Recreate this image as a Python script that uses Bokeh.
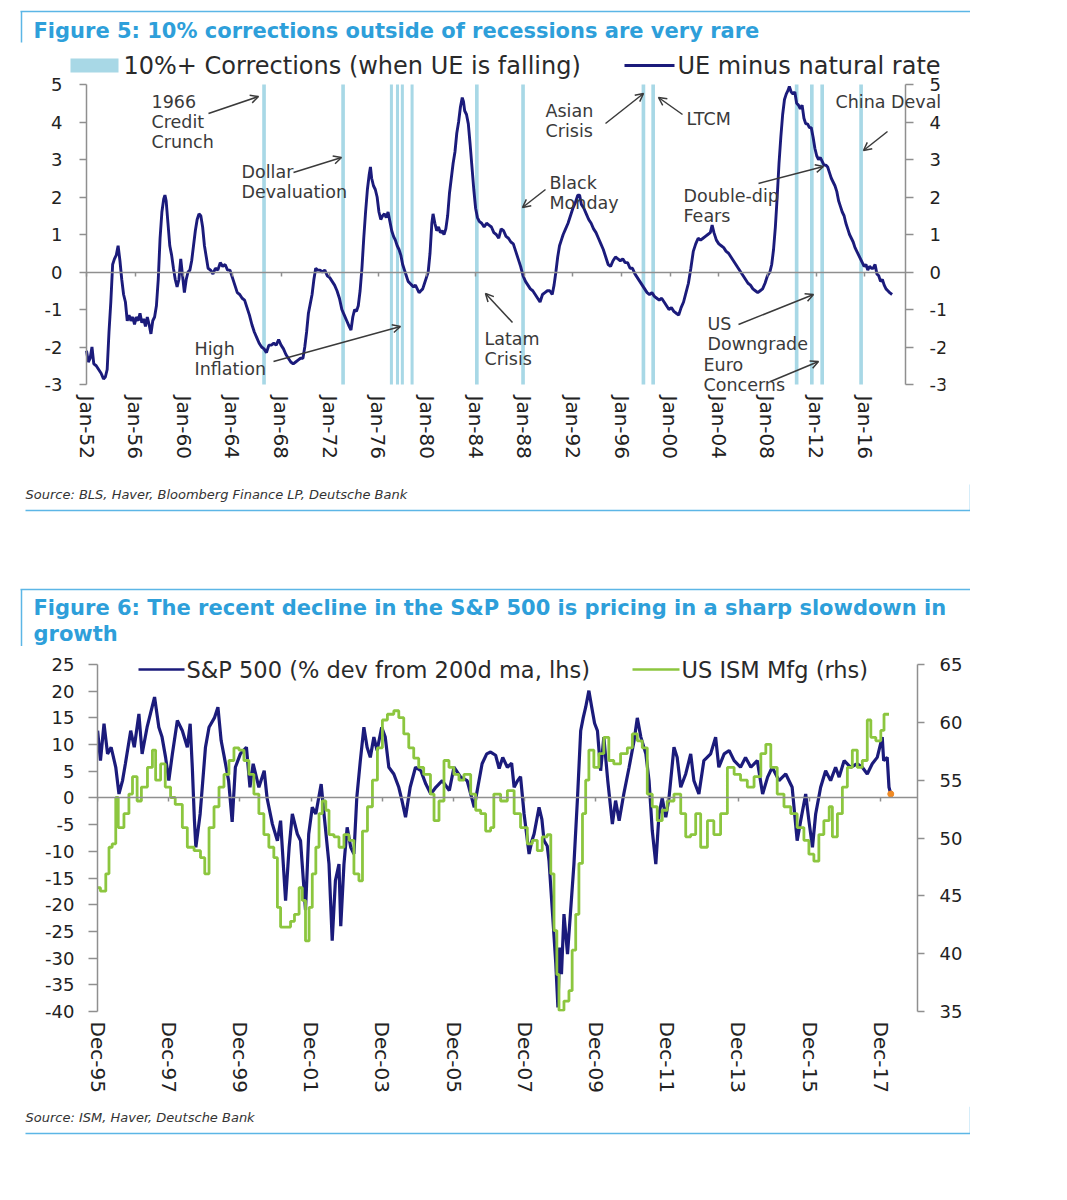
from bokeh.plotting import figure
from bokeh.models import (Range1d, LinearAxis, FixedTicker, CustomJSTickFormatter,
                          Label, Arrow, OpenHead)
from bokeh.layouts import column
from bokeh.embed import file_html
from bokeh.resources import INLINE

# ---------------------------------------------------------------- data
# Figure 5: unemployment rate minus natural rate (decimal years)
ue_years = [
    1952.0, 1952.15, 1952.3, 1952.45, 1952.6, 1952.8,
    1953.0, 1953.2, 1953.4, 1953.55, 1953.7, 1953.85,
    1954.0, 1954.15, 1954.3, 1954.45, 1954.6, 1954.75, 1954.9,
    1955.05, 1955.2, 1955.35, 1955.5, 1955.65, 1955.8, 1955.95,
    1956.1, 1956.25, 1956.4, 1956.55, 1956.7, 1956.85,
    1957.0, 1957.15, 1957.3, 1957.45, 1957.6, 1957.75, 1957.9,
    1958.05, 1958.2, 1958.35, 1958.45, 1958.55, 1958.7, 1958.85,
    1959.0, 1959.15, 1959.3, 1959.45, 1959.6, 1959.75, 1959.9,
    1960.05, 1960.2, 1960.35, 1960.5, 1960.65, 1960.8, 1960.95,
    1961.1, 1961.25, 1961.4, 1961.55, 1961.7, 1961.85,
    1962.0, 1962.2, 1962.4, 1962.6, 1962.8,
    1963.0, 1963.2, 1963.4, 1963.6, 1963.8,
    1964.0, 1964.2, 1964.4, 1964.6, 1964.8,
    1965.0, 1965.2, 1965.4, 1965.6, 1965.8,
    1966.0, 1966.2, 1966.4, 1966.6, 1966.8,
    1967.0, 1967.2, 1967.4, 1967.6, 1967.8,
    1968.0, 1968.2, 1968.4, 1968.6, 1968.8,
    1969.0, 1969.2, 1969.4, 1969.6, 1969.8, 1969.95,
    1970.1, 1970.25, 1970.4, 1970.55, 1970.7, 1970.85,
    1971.0, 1971.2, 1971.4, 1971.6, 1971.8,
    1972.0, 1972.2, 1972.4, 1972.6, 1972.8,
    1973.0, 1973.2, 1973.4, 1973.6, 1973.75, 1973.9,
    1974.05, 1974.2, 1974.35, 1974.5, 1974.65, 1974.8, 1974.95,
    1975.1, 1975.25, 1975.35, 1975.45, 1975.6, 1975.75, 1975.9,
    1976.05, 1976.2, 1976.35, 1976.5, 1976.65, 1976.8, 1976.95,
    1977.1, 1977.25, 1977.4, 1977.55, 1977.7, 1977.85,
    1978.0, 1978.15, 1978.3, 1978.45, 1978.6, 1978.75, 1978.9,
    1979.05, 1979.2, 1979.35, 1979.5, 1979.65, 1979.8, 1979.95,
    1980.1, 1980.25, 1980.4, 1980.5, 1980.65, 1980.8, 1980.95,
    1981.1, 1981.25, 1981.4, 1981.55, 1981.7, 1981.85,
    1982.0, 1982.15, 1982.3, 1982.45, 1982.6, 1982.75, 1982.9,
    1983.0, 1983.1, 1983.25, 1983.4, 1983.55, 1983.7, 1983.85,
    1984.0, 1984.15, 1984.3, 1984.5, 1984.7, 1984.9,
    1985.1, 1985.3, 1985.5, 1985.7, 1985.9,
    1986.1, 1986.3, 1986.5, 1986.7, 1986.9,
    1987.1, 1987.3, 1987.5, 1987.7, 1987.9,
    1988.1, 1988.3, 1988.5, 1988.7, 1988.9,
    1989.1, 1989.3, 1989.5, 1989.7, 1989.9,
    1990.1, 1990.3, 1990.45, 1990.6, 1990.75, 1990.9,
    1991.05, 1991.2, 1991.4, 1991.6, 1991.8,
    1992.0, 1992.2, 1992.4, 1992.55, 1992.7, 1992.9,
    1993.1, 1993.3, 1993.5, 1993.7, 1993.9,
    1994.1, 1994.3, 1994.5, 1994.7, 1994.9,
    1995.1, 1995.3, 1995.5, 1995.7, 1995.9,
    1996.1, 1996.3, 1996.5, 1996.7, 1996.9,
    1997.1, 1997.3, 1997.5, 1997.7, 1997.9,
    1998.1, 1998.3, 1998.5, 1998.7, 1998.9,
    1999.1, 1999.3, 1999.5, 1999.7, 1999.9,
    2000.1, 2000.3, 2000.5, 2000.7, 2000.9,
    2001.1, 2001.3, 2001.5, 2001.7, 2001.9,
    2002.1, 2002.3, 2002.5, 2002.7, 2002.9,
    2003.1, 2003.3, 2003.45, 2003.6, 2003.8,
    2004.0, 2004.2, 2004.4, 2004.6, 2004.8,
    2005.0, 2005.2, 2005.4, 2005.6, 2005.8,
    2006.0, 2006.2, 2006.4, 2006.6, 2006.8,
    2007.0, 2007.2, 2007.4, 2007.6, 2007.8,
    2008.0, 2008.2, 2008.35, 2008.5, 2008.65, 2008.8, 2008.95,
    2009.1, 2009.25, 2009.4, 2009.55, 2009.7, 2009.8, 2009.95,
    2010.1, 2010.25, 2010.4, 2010.55, 2010.7, 2010.85,
    2011.0, 2011.15, 2011.3, 2011.45, 2011.6, 2011.75, 2011.9,
    2012.05, 2012.2, 2012.35, 2012.5, 2012.65, 2012.8, 2012.95,
    2013.1, 2013.25, 2013.4, 2013.55, 2013.7, 2013.85,
    2014.0, 2014.15, 2014.3, 2014.45, 2014.6, 2014.75, 2014.9,
    2015.05, 2015.2, 2015.35, 2015.5, 2015.65, 2015.8, 2015.95,
    2016.1, 2016.25, 2016.4, 2016.55, 2016.7, 2016.85,
    2017.0, 2017.15, 2017.3, 2017.45, 2017.6, 2017.75, 2017.9,
    2018.05, 2018.25,
]
ue_values = [
    -2.1, -2.4, -2.3, -2.0, -2.45, -2.5,
    -2.6, -2.7, -2.85, -2.8, -2.6, -1.6,
    -0.8, 0.2, 0.35, 0.45, 0.7, 0.3, -0.2,
    -0.6, -0.8, -1.3, -1.15, -1.3, -1.2, -1.4,
    -1.2, -1.3, -1.1, -1.35, -1.25, -1.45,
    -1.2, -1.4, -1.65, -1.3, -1.2, -0.9, -0.2,
    0.9, 1.6, 1.95, 2.05, 1.9, 1.3, 0.7,
    0.45, 0.1, -0.2, -0.4, -0.2, 0.35, -0.1,
    -0.55, -0.2, 0.0, 0.05, 0.3, 0.7, 1.1,
    1.4, 1.55, 1.5, 1.2, 0.7, 0.4,
    0.1, 0.05, -0.05, 0.1, 0.05,
    0.25, 0.15, 0.2, 0.05, 0.05,
    -0.15, -0.35, -0.55, -0.6, -0.7,
    -0.75, -0.95, -1.15, -1.4, -1.6,
    -1.75, -1.9, -2.0, -2.05, -2.15,
    -1.95, -1.95, -1.9, -1.95, -1.8,
    -1.95, -2.05, -2.2, -2.3, -2.4,
    -2.45, -2.4, -2.35, -2.3, -2.3, -2.0,
    -1.6, -1.1, -0.85, -0.6, -0.2, 0.1,
    0.05, 0.05, 0.0, 0.05, -0.1,
    -0.15, -0.25, -0.35, -0.5, -0.7,
    -1.0, -1.15, -1.3, -1.45, -1.55, -1.2,
    -1.0, -1.05, -0.9, -0.5, 0.1, 0.9, 1.6,
    2.2, 2.6, 2.8, 2.5, 2.3, 2.2, 2.0,
    1.6, 1.4, 1.5, 1.55, 1.45, 1.6, 1.35,
    1.1, 0.95, 0.85, 0.7, 0.6, 0.45,
    0.2, 0.05, -0.1, -0.25, -0.3, -0.35, -0.4,
    -0.35, -0.45, -0.55, -0.5, -0.45, -0.3, -0.15,
    0.0, 0.5, 1.3, 1.55, 1.3, 1.1, 1.2,
    1.05, 1.1, 1.0, 1.15, 1.5, 2.1,
    2.5, 2.9, 3.2, 3.7, 4.0, 4.4, 4.65,
    4.55, 4.3, 4.2, 3.95, 3.4, 2.8, 2.2,
    1.7, 1.45, 1.35, 1.3, 1.2, 1.3,
    1.25, 1.2, 1.05, 1.0, 0.9,
    1.15, 1.1, 0.95, 0.9, 0.8,
    0.75, 0.55, 0.35, 0.15, -0.1,
    -0.25, -0.35, -0.45, -0.5, -0.6,
    -0.7, -0.8, -0.6, -0.55, -0.5,
    -0.5, -0.6, -0.35, 0.0, 0.4, 0.7,
    0.85, 1.0, 1.15, 1.3, 1.5,
    1.7, 1.85, 2.05, 2.05, 1.8, 1.7,
    1.55, 1.4, 1.3, 1.15, 1.05,
    0.9, 0.75, 0.6, 0.4, 0.2,
    0.15, 0.3, 0.4, 0.35, 0.3,
    0.35, 0.25, 0.25, 0.1, 0.1,
    -0.05, -0.15, -0.25, -0.35, -0.45,
    -0.55, -0.6, -0.55, -0.65, -0.7,
    -0.75, -0.7, -0.8, -0.9, -1.0,
    -0.95, -1.05, -1.1, -1.15, -0.95,
    -0.8, -0.55, -0.3, 0.1, 0.55,
    0.75, 0.9, 0.85, 0.9, 0.95,
    1.0, 1.05, 1.25, 1.05, 0.85,
    0.75, 0.7, 0.65, 0.55, 0.5,
    0.4, 0.3, 0.2, 0.1, 0.0,
    -0.1, -0.2, -0.3, -0.35, -0.45,
    -0.5, -0.55, -0.5, -0.45, -0.3,
    -0.1, 0.0, 0.2, 0.6, 1.2, 2.0, 2.9,
    3.6, 4.2, 4.6, 4.75, 4.85, 4.95, 4.8,
    4.75, 4.8, 4.5, 4.45, 4.35, 4.45,
    4.1, 3.95, 3.95, 3.85, 3.85, 3.6, 3.3,
    3.1, 3.0, 3.05, 2.95, 2.85, 2.85, 2.8,
    2.65, 2.5, 2.4, 2.3, 2.15, 1.9,
    1.75, 1.6, 1.5, 1.3, 1.15, 1.0, 0.9,
    0.8, 0.65, 0.55, 0.45, 0.35, 0.25, 0.15,
    0.2, 0.05, 0.15, 0.1, 0.1, 0.2,
    -0.05, -0.1, -0.25, -0.2, -0.35, -0.45, -0.5,
    -0.55, -0.6,
]
# 10%+ corrections while UE falling (start / end, decimal years)
corr_start = [1966.45, 1972.95, 1976.95, 1977.45, 1977.85, 1978.65, 1983.95,
              1987.75, 1997.65, 1998.45, 2010.25, 2011.5, 2012.35, 2015.55]
corr_end = [1966.75, 1973.25, 1977.2, 1977.7, 1978.1, 1978.9, 1984.25,
            1988.05, 1997.95, 1998.75, 2010.55, 2011.8, 2012.65, 2015.85]
fig5_xticks = [1952, 1956, 1960, 1964, 1968, 1972, 1976, 1980, 1984, 1988,
               1992, 1996, 2000, 2004, 2008, 2012, 2016]
fig5_xlabels = ["Jan-52", "Jan-56", "Jan-60", "Jan-64", "Jan-68", "Jan-72",
                "Jan-76", "Jan-80", "Jan-84", "Jan-88", "Jan-92", "Jan-96",
                "Jan-00", "Jan-04", "Jan-08", "Jan-12", "Jan-16"]
fig5_yticks = [-3, -2, -1, 0, 1, 2, 3, 4, 5]

# Figure 6: S&P 500 % deviation from 200d MA (lhs) and ISM manufacturing (rhs)
sp_years = [
    1995.92, 1996.0, 1996.1, 1996.2, 1996.3, 1996.43, 1996.52, 1996.62, 1996.7, 1996.85, 1996.95,
    1997.08, 1997.17, 1997.31, 1997.45, 1997.52, 1997.64, 1997.73, 1997.83, 1997.92,
    1998.02, 1998.16, 1998.3, 1998.44, 1998.52, 1998.58, 1998.64, 1998.68, 1998.8, 1998.95,
    1999.05, 1999.2, 1999.3, 1999.39, 1999.48, 1999.6, 1999.7, 1999.79, 1999.93,
    2000.1, 2000.2, 2000.29, 2000.45, 2000.6, 2000.68, 2000.83, 2000.97,
    2001.06, 2001.2, 2001.3, 2001.39, 2001.53, 2001.62, 2001.7, 2001.76, 2001.85, 2001.95,
    2002.05, 2002.2, 2002.28, 2002.42, 2002.51, 2002.6, 2002.7, 2002.75, 2002.84, 2002.93,
    2003.03, 2003.12, 2003.2, 2003.3, 2003.4, 2003.49, 2003.58, 2003.68, 2003.77, 2003.9,
    2004.0, 2004.1, 2004.24, 2004.38, 2004.47, 2004.57, 2004.7, 2004.85,
    2005.0, 2005.14, 2005.28, 2005.42, 2005.6, 2005.8, 2005.93,
    2006.12, 2006.3, 2006.5, 2006.6, 2006.72, 2006.85, 2006.96,
    2007.1, 2007.2, 2007.3, 2007.43, 2007.55, 2007.62, 2007.72, 2007.8, 2007.9,
    2008.04, 2008.12, 2008.18, 2008.32, 2008.4, 2008.46, 2008.55, 2008.6, 2008.7, 2008.79,
    2008.85, 2008.9, 2008.95,
    2009.02, 2009.12, 2009.2, 2009.3, 2009.4, 2009.49, 2009.56, 2009.63, 2009.72, 2009.8,
    2009.88, 2009.96,
    2010.05, 2010.14, 2010.25, 2010.38, 2010.47, 2010.57, 2010.7, 2010.85, 2010.99,
    2011.08, 2011.18, 2011.32, 2011.41, 2011.5, 2011.6, 2011.69, 2011.78, 2011.88, 2011.97,
    2012.11, 2012.2, 2012.3, 2012.44, 2012.58, 2012.67, 2012.81, 2012.95,
    2013.14, 2013.28, 2013.37, 2013.52, 2013.66, 2013.8, 2013.98,
    2014.12, 2014.27, 2014.45, 2014.6, 2014.74, 2014.87,
    2015.06, 2015.25, 2015.43, 2015.57, 2015.67, 2015.81, 2015.9,
    2016.0, 2016.09, 2016.23, 2016.37, 2016.51, 2016.65, 2016.75, 2016.89,
    2017.07, 2017.26, 2017.4, 2017.54, 2017.68, 2017.82, 2017.96,
    2018.0, 2018.1, 2018.15, 2018.2,
]
sp_values = [
    12.6, 7, 13.9, 8.25, 9.5, 5.75, 0.75, 3.25, 6.4, 12.6, 9.5,
    15.75, 8.25, 13.25, 17, 18.9, 13.25, 11.4, 7.6, 3.25,
    8.25, 14.5, 12.6, 9.5, 13.9, 5.75, -4.25, -9.25, -3, 9.5,
    13.25, 15, 17, 10.75, 7.6, 3.25, -4.5, 5.75, 8.25,
    9.5, 2, 6.4, 2, 5.1, 0, -4.9, -8,
    -4.25, -19.25, -9.25, -3, -6.75, -8, -15.5, -21, -6.75, -1.75,
    -3, 2.6, -3, -12.4, -26.75, -15.5, -12.4, -24, -12.4, -5.5,
    -9.25, -10.5, 0, 7, 13.25, 9.5, 7.6, 11.4, 8.9, 13.25,
    11.4, 5.75, 4.5, 2, -0.5, -3.6, 2, 5.75,
    5.1, 2.6, 0.75, 2, 3.25, 1.4, 5.75,
    3.9, 3.25, -1.75, 2, 6.4, 8.25, 8.6,
    8.0, 5.5, 7.6, 5.75, 6.5, 2, 3.25, 4.0, -3,
    -10.5, -8, -6.75, -1.75, -4, -8, -9, -11.75, -21.75, -31,
    -39.25, -28, -33,
    -21.75, -29.25, -21.75, -12.4, 0, 12.6, 15, 17, 20.1, 17,
    14, 12.6,
    5.1, 11.4, 3.25, -4.9, -0.5, -4.25, 0.75, 5.75, 10.75,
    15, 11.4, 8.25, 3.25, -6.1, -12.4, -3, 0, -3.6, 0,
    9.5, 7.6, 2, 4.5, 8.25, 3.25, 0.75, 7,
    8.25, 11.4, 5.75, 8.25, 8.9, 7, 5.75,
    7.6, 5.75, 7, 0.75, 3.9, 5.75,
    3.25, 4.5, 2, -8, -4.25, 0.75, -4.25,
    -9.25, -3, 2, 5.1, 3.25, 5.75, 3.9, 7,
    5.75, 6.4, 5.75, 4.5, 6.4, 7.6, 11.4,
    7, 7.6, 2, 0.75,
]
ism_years = [
    1995.92, 1996.0, 1996.15, 1996.24, 1996.33, 1996.43, 1996.5, 1996.66, 1996.8, 1996.9,
    1997.03, 1997.15, 1997.32, 1997.46, 1997.55, 1997.69, 1997.82, 1997.97,
    1998.1, 1998.3, 1998.44, 1998.63, 1998.81, 1998.93,
    1999.05, 1999.19, 1999.33, 1999.47, 1999.61, 1999.75, 1999.89,
    2000.03, 2000.17, 2000.31, 2000.45, 2000.59, 2000.73, 2000.87, 2000.97,
    2001.06, 2001.2, 2001.34, 2001.45, 2001.58, 2001.67, 2001.76, 2001.86, 2001.95,
    2002.05, 2002.14, 2002.23, 2002.33, 2002.42, 2002.56, 2002.7, 2002.84, 2002.98,
    2003.12, 2003.26, 2003.36, 2003.5, 2003.64, 2003.78, 2003.92,
    2004.06, 2004.24, 2004.38, 2004.52, 2004.66, 2004.8, 2004.94,
    2005.08, 2005.27, 2005.37, 2005.51, 2005.65, 2005.79, 2005.93,
    2006.07, 2006.21, 2006.4, 2006.54, 2006.68, 2006.82, 2006.96,
    2007.05, 2007.24, 2007.43, 2007.62, 2007.8, 2007.99,
    2008.13, 2008.27, 2008.41, 2008.55, 2008.65, 2008.74, 2008.82, 2008.88,
    2009.02, 2009.16, 2009.25, 2009.35, 2009.44, 2009.54, 2009.63, 2009.72, 2009.86,
    2010.0, 2010.14, 2010.28, 2010.42, 2010.61, 2010.8, 2010.94,
    2011.08, 2011.22, 2011.36, 2011.5, 2011.64, 2011.78, 2011.92,
    2012.11, 2012.3, 2012.44, 2012.58, 2012.72, 2012.86,
    2013.05, 2013.23, 2013.42, 2013.61, 2013.8, 2013.98,
    2014.17, 2014.36, 2014.55, 2014.69, 2014.83,
    2015.01, 2015.2, 2015.39, 2015.57, 2015.76, 2015.9,
    2016.04, 2016.18, 2016.32, 2016.47, 2016.56, 2016.7, 2016.84, 2016.98,
    2017.12, 2017.26, 2017.4, 2017.54, 2017.64, 2017.78, 2017.92,
    2018.01, 2018.15,
]
ism_values = [
    45.7, 45.4, 46.9, 49.2, 49.5, 53.5, 50.9, 52.1, 53.8, 55.3,
    53.2, 54.4, 56.1, 57.6, 55.0, 56.4, 54.4, 53.5,
    52.9, 50.9, 49.2, 48.9, 48.3, 46.9,
    50.9, 52.7, 54.4, 55.5, 56.7, 57.8, 57.6,
    56.7, 55.5, 53.8, 52.1, 50.3, 49.2, 48.3, 44.0,
    42.3, 42.3, 42.8, 43.4, 45.7, 44.6, 41.1, 44.0, 46.9,
    49.2, 52.1, 53.2, 52.4, 50.3, 50.1, 49.2, 50.3, 49.8,
    46.9, 46.3, 50.6, 52.7, 55.0, 57.8, 60.2,
    60.7, 61.0, 60.4, 59.0, 57.8, 56.9, 56.1,
    55.5, 53.8, 51.5, 53.2, 56.7, 56.1, 55.5,
    55.0, 55.5, 53.8, 52.4, 52.1, 50.6, 50.9,
    53.8, 53.2, 54.1, 52.1, 50.9, 49.5,
    49.8, 48.9, 50.1, 50.3, 46.9, 42.0, 38.2, 35.1,
    35.9, 36.8, 40.3, 43.4, 47.8, 52.1, 55.0, 57.6, 56.1,
    57.3, 58.7, 56.7, 56.4, 57.3, 57.8, 59.0,
    58.4, 57.8, 53.8, 52.7, 51.5, 52.4, 53.2,
    53.8, 52.1, 50.1, 50.3, 52.1, 49.2,
    51.5, 50.3, 52.1, 56.1, 55.5, 55.0,
    54.4, 55.3, 57.3, 58.1, 56.1,
    53.8, 52.7, 52.1, 50.9, 49.8, 48.6,
    48.0, 50.3, 51.5, 52.7, 50.1, 52.1, 54.4, 56.1,
    57.6, 56.1, 56.7, 60.2, 58.7, 58.4, 59.3,
    60.7, 60.7,
]
fig6_xticks = [1995.917 + 2 * i for i in range(12)]
fig6_xlabels = ["Dec-95", "Dec-97", "Dec-99", "Dec-01", "Dec-03", "Dec-05",
                "Dec-07", "Dec-09", "Dec-11", "Dec-13", "Dec-15", "Dec-17"]
fig6_lticks = [-40, -35, -30, -25, -20, -15, -10, -5, 0, 5, 10, 15, 20, 25]
fig6_rticks = [35, 40, 45, 50, 55, 60, 65]

# ---------------------------------------------------------------- style
FONT = "DejaVu Sans"
NAVY = "#1b1b7b"
GREEN = "#8cc63f"
BAND = "#a8d8e6"
TITLE_C = "#2e9fda"
FRAME_C = "#5cb6e6"
AXIS_C = "#8f8f8f"
TICK_C = "#222222"
NOTE_C = "#3a3a3a"
LEG_C = "#2a2a2a"
PAGE_W = 970


def pixel_fig(top, bottom):
    p = figure(width=PAGE_W, height=bottom - top, x_range=Range1d(0, PAGE_W),
               y_range=Range1d(bottom, top), x_axis_type=None, y_axis_type=None,
               toolbar_location=None, output_backend="svg", min_border=0,
               frame_align=False)
    p.outline_line_color = None
    return p


def text(p, x, y, s, size, color, style="normal"):
    p.add_layout(Label(x=x, y=y, text=s, text_font=FONT, text_font_size=size,
                       text_color=color, text_font_style=style, text_align="left",
                       text_baseline="middle"))


def label_formatter(ticks, labels):
    return CustomJSTickFormatter(args=dict(tv=ticks, tl=labels), code="""
        let best = 0, d = Infinity;
        for (let i = 0; i < tv.length; i++) {
            const e = Math.abs(tv[i] - tick);
            if (e < d) { d = e; best = i; }
        }
        return tl[best];""")


def style_y(ax, ticks, tick_out, standoff):
    ax.ticker = FixedTicker(ticks=ticks)
    ax.formatter = CustomJSTickFormatter(code="return String(tick);")
    ax.bounds = (ticks[0], ticks[-1])
    ax.axis_line_color = AXIS_C
    ax.axis_line_width = 1.5
    ax.major_tick_line_color = AXIS_C
    ax.major_tick_line_width = 1.5
    ax.major_tick_out = tick_out
    ax.major_tick_in = 0
    ax.minor_tick_line_color = None
    ax.major_label_text_font = FONT
    ax.major_label_text_font_size = "18px"
    ax.major_label_text_color = TICK_C
    ax.major_label_standoff = standoff


def style_x(p, ticks, labels, standoff, zero_bounds):
    ax = p.xaxis[0]
    ax.ticker = FixedTicker(ticks=ticks)
    ax.formatter = label_formatter(ticks, labels)
    ax.axis_line_color = None
    ax.major_tick_line_color = None
    ax.minor_tick_line_color = None
    ax.major_tick_out = 0
    ax.major_tick_in = 0
    ax.major_label_orientation = "vertical"
    ax.major_label_standoff = standoff
    ax.major_label_text_font = FONT
    ax.major_label_text_font_size = "20px"
    ax.major_label_text_color = TICK_C
    zero = LinearAxis(fixed_location=0, ticker=FixedTicker(ticks=ticks), bounds=zero_bounds,
                      formatter=CustomJSTickFormatter(code="return '';"),
                      axis_line_color=AXIS_C, axis_line_width=1.5,
                      major_tick_line_color=AXIS_C, major_tick_line_width=1.5,
                      major_tick_out=4, major_tick_in=0, minor_tick_line_color=None,
                      major_label_standoff=0, major_label_text_font_size="1px")
    p.add_layout(zero, "below")


# ---------------------------------------------------------------- header A (title only)
HEAD_A = 50
head_a = pixel_fig(0, HEAD_A)
head_a.line([20, 970], [11, 11], line_color=FRAME_C, line_width=1.5)
head_a.line([21, 21], [11, 42], line_color=FRAME_C, line_width=1.5)
text(head_a, 33, 30, "Figure 5: 10% corrections outside of recessions are very rare",
     "21px", TITLE_C, "bold")

# ---------------------------------------------------------------- chart A
# frame: x 30..945 (value axes drawn at x=86 and x=905), y 50..392 (5 at 84, -3 at 384)
A_X0, A_PX, A_LEFT, A_TOP, A_PY = 1952.0, 12.16, 86, 84, 37.5
A_FL, A_FR, A_BOTTOM = 30, 945, 392
pa = figure(frame_width=A_FR - A_FL, frame_height=A_BOTTOM - HEAD_A,
            x_range=Range1d(A_X0 - (A_LEFT - A_FL) / A_PX, A_X0 + (A_FR - A_LEFT) / A_PX),
            y_range=Range1d(5 - (A_BOTTOM - A_TOP) / A_PY, 5 + (A_TOP - HEAD_A) / A_PY),
            min_border_left=A_FL, min_border_right=30, min_border_top=0, min_border_bottom=88,
            toolbar_location=None, output_backend="svg", frame_align=False)
pa.outline_line_color = None
pa.grid.visible = False


def ax_(px):
    return A_X0 + (px - A_LEFT) / A_PX


def ay_(py):
    return 5 - (py - A_TOP) / A_PY


la = pa.yaxis[0]
la.fixed_location = A_X0
style_y(la, fig5_yticks, 7, 17)
ra = LinearAxis(fixed_location=ax_(905))
style_y(ra, fig5_yticks, 8, 16)
pa.add_layout(ra, "right")
style_x(pa, fig5_xticks, fig5_xlabels, 3, (A_X0, ax_(905)))

pa.quad(left=corr_start, right=corr_end, bottom=fig5_yticks[0], top=fig5_yticks[-1],
        fill_color=BAND, line_color=None)
pa.line(ue_years, ue_values, line_color=NAVY, line_width=2.9)

# legend (above the value area)
pa.quad(left=[ax_(70)], right=[ax_(118)], top=[ay_(58)], bottom=[ay_(72)],
        fill_color=BAND, line_color=None)
pa.add_layout(Label(x=ax_(123), y=ay_(65), text="10%+ Corrections (when UE is falling)",
                    text_font=FONT, text_font_size="24px", text_color=LEG_C,
                    text_baseline="middle"))
pa.segment(x0=[ax_(624)], y0=[ay_(65)], x1=[ax_(674)], y1=[ay_(65)],
           line_color=NAVY, line_width=3)
pa.add_layout(Label(x=ax_(677), y=ay_(65), text="UE minus natural rate",
                    text_font=FONT, text_font_size="24px", text_color=LEG_C,
                    text_baseline="middle"))

notes_a = [
    (["1966", "Credit", "Crunch"], 151, 101, (208, 113), (258, 96)),
    (["Dollar", "Devaluation"], 241, 171, (293, 172), (341, 157)),
    (["High", "Inflation"], 194, 348, (273, 361), (400, 326)),
    (["Latam", "Crisis"], 484, 338, (512, 322), (485, 293)),
    (["Black", "Monday"], 549, 182, (545, 189), (522, 207)),
    (["Asian", "Crisis"], 545, 110, (605, 123), (643, 93)),
    (["LTCM"], 686, 118, (682, 114), (658, 97)),
    (["Double-dip", "Fears"], 683, 195, (758, 183), (823, 166)),
    (["China Deval"], 835, 101, (887, 131), (863, 150)),
    (["US", "Downgrade"], 707, 323, (738, 324), (813, 294)),
    (["Euro", "Concerns"], 703, 364, (770, 381), (818, 361)),
]
for lines, lx, ly, (sx, sy), (ex, ey) in notes_a:
    for i, s in enumerate(lines):
        pa.add_layout(Label(x=ax_(lx), y=ay_(ly + 20 * i), text=s, text_font=FONT,
                            text_font_size="17.5px", text_color=NOTE_C,
                            text_baseline="middle"))
    pa.add_layout(Arrow(x_start=ax_(sx), y_start=ay_(sy), x_end=ax_(ex), y_end=ay_(ey),
                        line_color=NOTE_C, line_width=1.5,
                        end=OpenHead(size=8, line_color=NOTE_C, line_width=1.5)))

# ---------------------------------------------------------------- middle strip
mid = pixel_fig(480, 646)
text(mid, 25, 494, "Source: BLS, Haver, Bloomberg Finance LP, Deutsche Bank", "13px",
     "#333333", "italic")
mid.line([25, 970], [510, 510], line_color=FRAME_C, line_width=1.5)
mid.line([970, 970], [484, 510], line_color=FRAME_C, line_width=1.5)
mid.line([20, 970], [589, 589], line_color=FRAME_C, line_width=1.5)
mid.line([21, 21], [589, 646], line_color=FRAME_C, line_width=1.5)
text(mid, 33, 607,
     "Figure 6: The recent decline in the S&P 500 is pricing in a sharp slowdown in",
     "21px", TITLE_C, "bold")
text(mid, 33, 633, "growth", "21px", TITLE_C, "bold")

# ---------------------------------------------------------------- chart B
# frame: x 97..917, y 654..1011 (25 at 664, -40 at 1011)
B_X0, B_PX, B_LEFT, B_TOP = 1995.917, 35.6, 97, 664
B_W, B_H, B_PAD = 820, 347, 10
B_PY = B_H / 65.0
pb = figure(frame_width=B_W, frame_height=B_H + B_PAD,
            x_range=Range1d(B_X0, B_X0 + B_W / B_PX),
            y_range=Range1d(-40, 25 + B_PAD / B_PY),
            min_border_left=B_LEFT, min_border_right=61, min_border_top=8, min_border_bottom=95,
            toolbar_location=None, output_backend="svg", frame_align=False)
pb.extra_y_ranges = {"ism": Range1d(35, 65 + B_PAD * 30.0 / B_H)}
pb.outline_line_color = None
pb.grid.visible = False
style_y(pb.yaxis[0], fig6_lticks, 9, 14)
rb = LinearAxis(y_range_name="ism")
style_y(rb, fig6_rticks, 7, 15)
pb.add_layout(rb, "right")
style_x(pb, fig6_xticks, fig6_xlabels, 10, (B_X0, B_X0 + B_W / B_PX))

pb.line(sp_years, sp_values, line_color=NAVY, line_width=3.2)
pb.step(ism_years, ism_values, mode="after", y_range_name="ism",
        line_color=GREEN, line_width=2.8)
pb.scatter([sp_years[-1]], [sp_values[-1]], size=6, color="#f08a24")


def bx_(px):
    return B_X0 + (px - B_LEFT) / B_PX


def by_(py):
    return 25 - (py - B_TOP) / B_PY


pb.segment(x0=[bx_(138)], y0=[by_(669)], x1=[bx_(184)], y1=[by_(669)],
           line_color=NAVY, line_width=2.5)
pb.add_layout(Label(x=bx_(186), y=by_(669), text="S&P 500 (% dev from 200d ma, lhs)",
                    text_font=FONT, text_font_size="22.5px", text_color=LEG_C,
                    text_baseline="middle"))
pb.segment(x0=[bx_(632)], y0=[by_(669)], x1=[bx_(679)], y1=[by_(669)],
           line_color=GREEN, line_width=2.5)
pb.add_layout(Label(x=bx_(681), y=by_(669), text="US ISM Mfg (rhs)",
                    text_font=FONT, text_font_size="22.5px", text_color=LEG_C,
                    text_baseline="middle"))

# ---------------------------------------------------------------- footer B
foot = pixel_fig(1106, 1150)
text(foot, 25, 1117, "Source: ISM, Haver, Deutsche Bank", "13px", "#333333", "italic")
foot.line([25, 970], [1133, 1133], line_color=FRAME_C, line_width=1.5)
foot.line([970, 970], [1106, 1133], line_color=FRAME_C, line_width=1.5)

page = column(head_a, pa, mid, pb, foot)
open("out.html", "w").write(file_html(page, INLINE))
